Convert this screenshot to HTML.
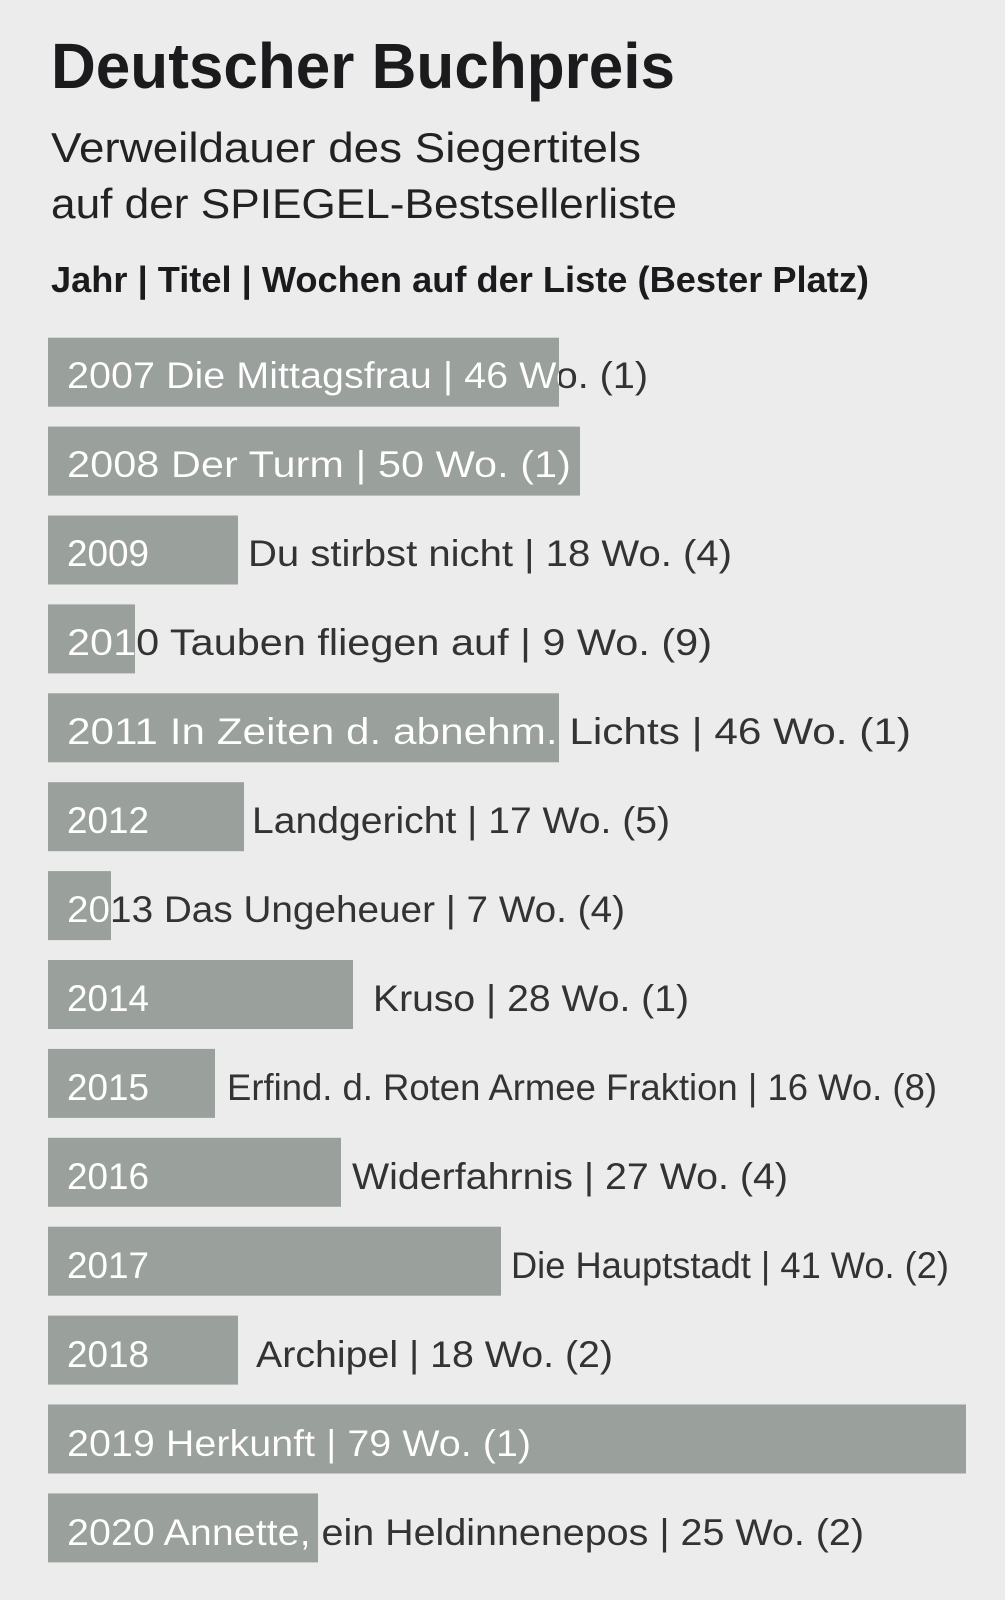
<!DOCTYPE html>
<html><head><meta charset="utf-8"><style>
html,body{margin:0;padding:0;background:#ececec;}
svg{display:block;}
text{font-family:"Liberation Sans",sans-serif;}
</style></head><body>
<svg width="1005" height="1600" viewBox="0 0 1005 1600" xmlns="http://www.w3.org/2000/svg">
<rect width="1005" height="1600" fill="#ececec"/>
<text x="51" y="88" font-size="64" font-weight="bold" fill="#1b1b1d" textLength="624" lengthAdjust="spacingAndGlyphs">Deutscher Buchpreis</text>
<text x="51" y="162" font-size="42" fill="#222" textLength="590" lengthAdjust="spacingAndGlyphs">Verweildauer des Siegertitels</text>
<text x="51" y="218" font-size="42" fill="#222" textLength="626" lengthAdjust="spacingAndGlyphs">auf der SPIEGEL-Bestsellerliste</text>
<text x="51" y="292" font-size="36" font-weight="bold" fill="#1b1b1d" textLength="818" lengthAdjust="spacingAndGlyphs">Jahr | Titel | Wochen auf der Liste (Bester Platz)</text>
<defs>
<clipPath id="c0"><rect x="48" y="337.7" width="511" height="69"/></clipPath>
<clipPath id="c1"><rect x="48" y="426.6" width="532" height="69"/></clipPath>
<clipPath id="c3"><rect x="48" y="604.4" width="87" height="69"/></clipPath>
<clipPath id="c4"><rect x="48" y="693.3" width="511" height="69"/></clipPath>
<clipPath id="c6"><rect x="48" y="871.1" width="63" height="69"/></clipPath>
<clipPath id="c12"><rect x="48" y="1404.5" width="918" height="69"/></clipPath>
<clipPath id="c13"><rect x="48" y="1493.4" width="270" height="69"/></clipPath>
</defs>
<g fill="#9aa09c">
<rect x="48" y="337.7" width="511" height="69"/>
<rect x="48" y="426.6" width="532" height="69"/>
<rect x="48" y="515.5" width="190" height="69"/>
<rect x="48" y="604.4" width="87" height="69"/>
<rect x="48" y="693.3" width="511" height="69"/>
<rect x="48" y="782.2" width="196" height="69"/>
<rect x="48" y="871.1" width="63" height="69"/>
<rect x="48" y="960" width="305" height="69"/>
<rect x="48" y="1048.9" width="167" height="69"/>
<rect x="48" y="1137.8" width="293" height="69"/>
<rect x="48" y="1226.7" width="453" height="69"/>
<rect x="48" y="1315.6" width="190" height="69"/>
<rect x="48" y="1404.5" width="918" height="69"/>
<rect x="48" y="1493.4" width="270" height="69"/>
</g>
<g font-size="37" fill="#333">
<text x="67" y="388" textLength="581" lengthAdjust="spacingAndGlyphs">2007 Die Mittagsfrau | 46 Wo. (1)</text>
<text x="67" y="477" textLength="504" lengthAdjust="spacingAndGlyphs">2008 Der Turm | 50 Wo. (1)</text>
<text x="248" y="566" textLength="484" lengthAdjust="spacingAndGlyphs">Du stirbst nicht | 18 Wo. (4)</text>
<text x="67" y="655" textLength="645" lengthAdjust="spacingAndGlyphs">2010 Tauben fliegen auf | 9 Wo. (9)</text>
<text x="67" y="744" textLength="844" lengthAdjust="spacingAndGlyphs">2011 In Zeiten d. abnehm. Lichts | 46 Wo. (1)</text>
<text x="252" y="833" textLength="418" lengthAdjust="spacingAndGlyphs">Landgericht | 17 Wo. (5)</text>
<text x="67" y="922" textLength="558" lengthAdjust="spacingAndGlyphs">2013 Das Ungeheuer | 7 Wo. (4)</text>
<text x="373" y="1011" textLength="316" lengthAdjust="spacingAndGlyphs">Kruso | 28 Wo. (1)</text>
<text x="227" y="1100" textLength="710" lengthAdjust="spacingAndGlyphs">Erfind. d. Roten Armee Fraktion | 16 Wo. (8)</text>
<text x="352" y="1189" textLength="436" lengthAdjust="spacingAndGlyphs">Widerfahrnis | 27 Wo. (4)</text>
<text x="511" y="1278" textLength="438" lengthAdjust="spacingAndGlyphs">Die Hauptstadt | 41 Wo. (2)</text>
<text x="256" y="1367" textLength="357" lengthAdjust="spacingAndGlyphs">Archipel | 18 Wo. (2)</text>
<text x="67" y="1456" textLength="464" lengthAdjust="spacingAndGlyphs">2019 Herkunft | 79 Wo. (1)</text>
<text x="67" y="1545" textLength="797" lengthAdjust="spacingAndGlyphs">2020 Annette, ein Heldinnenepos | 25 Wo. (2)</text>
</g>
<g font-size="37" fill="#fff">
<text clip-path="url(#c0)" x="67" y="388" textLength="581" lengthAdjust="spacingAndGlyphs">2007 Die Mittagsfrau | 46 Wo. (1)</text>
<text clip-path="url(#c1)" x="67" y="477" textLength="504" lengthAdjust="spacingAndGlyphs">2008 Der Turm | 50 Wo. (1)</text>
<text x="67" y="566" textLength="82" lengthAdjust="spacingAndGlyphs">2009</text>
<text clip-path="url(#c3)" x="67" y="655" textLength="645" lengthAdjust="spacingAndGlyphs">2010 Tauben fliegen auf | 9 Wo. (9)</text>
<text clip-path="url(#c4)" x="67" y="744" textLength="844" lengthAdjust="spacingAndGlyphs">2011 In Zeiten d. abnehm. Lichts | 46 Wo. (1)</text>
<text x="67" y="833" textLength="82" lengthAdjust="spacingAndGlyphs">2012</text>
<text clip-path="url(#c6)" x="67" y="922" textLength="558" lengthAdjust="spacingAndGlyphs">2013 Das Ungeheuer | 7 Wo. (4)</text>
<text x="67" y="1011" textLength="82" lengthAdjust="spacingAndGlyphs">2014</text>
<text x="67" y="1100" textLength="82" lengthAdjust="spacingAndGlyphs">2015</text>
<text x="67" y="1189" textLength="82" lengthAdjust="spacingAndGlyphs">2016</text>
<text x="67" y="1278" textLength="82" lengthAdjust="spacingAndGlyphs">2017</text>
<text x="67" y="1367" textLength="82" lengthAdjust="spacingAndGlyphs">2018</text>
<text clip-path="url(#c12)" x="67" y="1456" textLength="464" lengthAdjust="spacingAndGlyphs">2019 Herkunft | 79 Wo. (1)</text>
<text clip-path="url(#c13)" x="67" y="1545" textLength="797" lengthAdjust="spacingAndGlyphs">2020 Annette, ein Heldinnenepos | 25 Wo. (2)</text>
</g>
</svg>
</body></html>
